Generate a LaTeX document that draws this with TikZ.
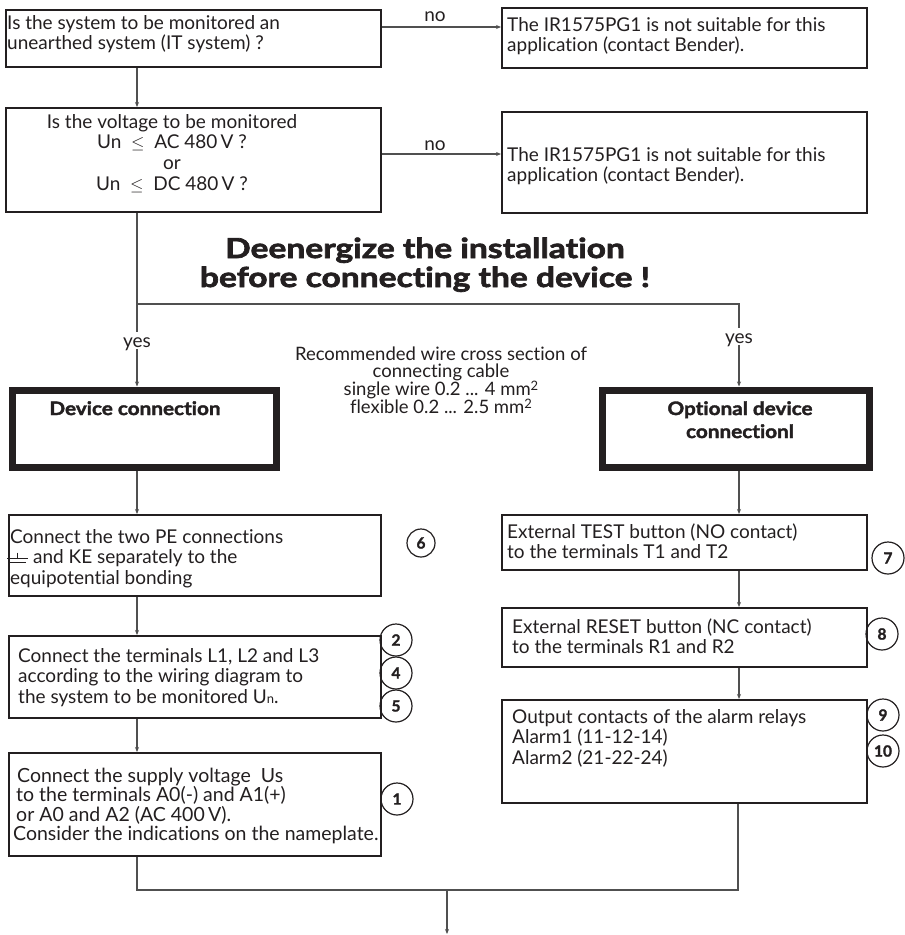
\documentclass[tikz,border=0pt]{standalone}
\usepackage{fontspec}
\setmainfont{Lato}[Ligatures={NoCommon}]
\newfontfamily\heavyfont{Lato}[Ligatures={NoCommon}, BoldFeatures={FakeBold=2,FakeStretch=1.12}]
\newfontfamily\headfont{Lato}[Ligatures={NoCommon}, BoldFeatures={FakeBold=2.5,FakeStretch=1.22}]
\newfontfamily\numfont{Lato}[BoldFeatures={FakeBold=1.5}]
\usetikzlibrary{arrows.meta}
\definecolor{ink}{HTML}{231F20}
\definecolor{connc}{HTML}{505050}
\begin{document}
\begin{tikzpicture}[x=1pt,y=-1pt,
  box/.style={draw=ink, line width=1.8pt, inner sep=0pt, anchor=north west},
  heavybox/.style={draw=ink, line width=7pt, inner sep=0pt, anchor=north west},
  txt/.style={anchor=base west, inner sep=0pt, align=left, text=ink, font=\fontsize{19}{20.7}\selectfont},
  ctxt/.style={anchor=base, inner sep=0pt, align=center, text=ink, font=\fontsize{19}{20.7}\selectfont},
  lbl/.style={anchor=base, inner xsep=0pt, inner ysep=2pt, text height=13pt, text depth=0pt, text=ink, font=\fontsize{19}{20}\selectfont},
  num/.style={draw=ink, circle, line width=1.2pt, minimum size=32pt, inner sep=0pt, text=ink, font=\numfont\bfseries\fontsize{15.5}{15.5}\selectfont},
  conn/.style={draw=connc, line width=1.1pt},
  arr/.style={conn, -{Stealth[length=5pt,width=4pt]}}
]
\fill[white] (0,0) rectangle (905,935);
\useasboundingbox (0,0) rectangle (905,935);

% boxes
\node[box, minimum width=375pt, minimum height=57pt] (a) at (5,9) {};
\node[box, minimum width=375pt, minimum height=104pt] (b) at (5,107) {};
\node[box, minimum width=365pt, minimum height=60pt] (c) at (501,7) {};
\node[box, minimum width=365pt, minimum height=101pt] (d) at (501,111) {};
\node[heavybox, minimum width=264pt, minimum height=77pt] (e) at (8.5,386.5) {};
\node[heavybox, minimum width=267pt, minimum height=77pt] (f) at (598.5,386.5) {};
\node[box, minimum width=372pt, minimum height=81pt] (g) at (8,514) {};
\node[box, minimum width=372pt, minimum height=82pt] (i) at (8,635) {};
\node[box, minimum width=372pt, minimum height=103pt] (j) at (8,752) {};
\node[box, minimum width=365pt, minimum height=55pt] (h) at (501,514) {};
\node[box, minimum width=365pt, minimum height=59pt] (r) at (501,607) {};
\node[box, minimum width=365pt, minimum height=103pt] (k) at (501,699) {};

% texts (anchor base = baseline of the last line)
\node[txt] (ta) at (7,49.7) {Is the system to be monitored an\\unearthed system (IT system) ?};
\node[ctxt] (tb) at (172,190.1) {Is the voltage to be monitored\\Un ~$\leq$~ AC 480\,V ?\\or\\Un ~$\leq$~ DC 480\,V ?};
\node[txt] (tc) at (507,51.7) {The IR1575PG1 is not suitable for this\\application (contact Bender).};
\node[txt] (td) at (507,181.7) {The IR1575PG1 is not suitable for this\\application (contact Bender).};
\node[anchor=base, inner sep=0pt, align=center, text=ink, font=\headfont\bfseries\fontsize{27.5}{29}\selectfont] (head) at (425,287) {Deenergize the installation\\before connecting the device !};
\node[anchor=base, inner sep=0pt, align=center, text=ink, font=\fontsize{18.5}{17.8}\selectfont] (wire) at (441,413.4) {Recommended wire cross section of\\connecting cable\\single wire 0.2 ... 4 mm\smash{\raisebox{5pt}{\fontsize{13}{13}\selectfont 2}}\\flexible 0.2 ... 2.5 mm\smash{\raisebox{5pt}{\fontsize{13}{13}\selectfont 2}}};
\node[anchor=base, inner sep=0pt, text=ink, font=\heavyfont\bfseries\fontsize{18.5}{22}\selectfont] (te) at (135,415) {Device connection};
\node[anchor=base, inner sep=0pt, align=center, text=ink, font=\heavyfont\bfseries\fontsize{18.5}{23}\selectfont] (tf) at (740,438) {Optional device\\connectionl};
\node[txt] (tg) at (10,584.4) {Connect the two PE connections\\\hspace*{23pt}and KE separately to the\\equipotential bonding};
\draw[ink, line width=1pt] (17,552.5) -- (17,558) (7,558) -- (28,558) (10,562.7) -- (26,562.7);
\node[txt] (ti) at (18,703.4) {Connect the terminals L1, L2 and L3\\according to the wiring diagram to\\the system to be monitored U{\fontsize{13}{13}\selectfont n}.};
\node[txt, font=\fontsize{19.5}{19.6}\selectfont] (tj) at (13,840.8) {\hspace*{4pt}Connect the supply voltage~~Us\\\hspace*{3pt}to the terminals A0(-) and A1(+)\\\hspace*{3pt}or A0 and A2 (AC 400\,V).\\Consider the indications on the nameplate.};
\node[txt] (th) at (507,558.7) {External TEST button (NO contact)\\to the terminals T1 and T2};
\node[txt] (tr) at (512,653.7) {External RESET button (NC contact)\\to the terminals R1 and R2};
\node[txt] (tk) at (512,764.4) {Output contacts of the alarm relays\\Alarm1 (11-12-14)\\Alarm2 (21-22-24)};

% numbers
\node[num, minimum size=28pt] (n6) at (421,543) {6};
\node[num] (n2) at (396,640) {2};
\node[num] (n4) at (396,673) {4};
\node[num] (n5) at (396,706) {5};
\node[num] (n1) at (397,799) {1};
\node[num] (n7) at (888,558) {7};
\node[num] (n8) at (882,634) {8};
\node[num] (n9) at (883,715) {9};
\node[num] (n10) at (883,751) {10};

% labels
\node[anchor=base, inner sep=0pt, text=ink, font=\fontsize{19}{20}\selectfont] (no1) at (435,21) {no};
\node[anchor=base, inner sep=0pt, text=ink, font=\fontsize{19}{20}\selectfont] (no2) at (435,150) {no};
\node[lbl] (yesl) at (137,347) {yes};
\node[lbl] (yesr) at (739,343) {yes};

% connectors
\coordinate (xl) at (137,0);
\coordinate (xr) at (739,0);
\draw[arr] ([yshift=-18pt]a.north east) -- ([yshift=-20pt]c.north west);
\draw[arr] ([yshift=-47pt]b.north east) -- ([yshift=-43pt]d.north west);
\draw[arr] (a.south -| xl) -- (b.north -| xl);
\draw[conn] (b.south -| xl) -- (yesl.north);
\draw[arr] (yesl.south) -- (e.north -| xl);
\coordinate (br) at (137,304);
\draw[conn] (br) -| (yesr.north);
\draw[arr] (yesr.south) -- (f.north -| yesr);
\draw[arr] (e.south -| xl) -- (g.north -| xl);
\draw[arr] (g.south -| xl) -- (i.north -| xl);
\draw[arr] (i.south -| xl) -- (j.north -| xl);
\draw[arr] (f.south -| xr) -- (h.north -| xr);
\draw[arr] (h.south -| xr) -- (r.north -| xr);
\draw[arr] (r.south -| xr) -- (k.north -| xr);
\coordinate (bl) at (137,890);
\coordinate (brr) at (738,890);
\coordinate (m) at (447,890);
\coordinate (fin) at (447,934);
\draw[conn] (j.south -| bl) -- (bl) -- (brr) -- (k.south -| brr);
\draw[arr] (m) -- (fin);
\end{tikzpicture}
\end{document}
